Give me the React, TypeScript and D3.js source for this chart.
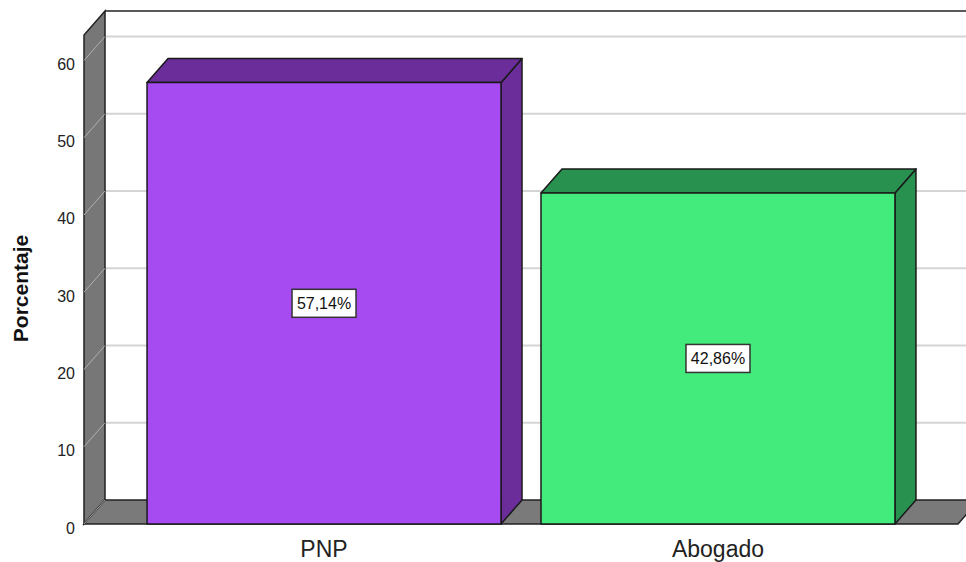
import * as d3 from 'd3';
import React from 'react';

const categories = ['PNP', 'Abogado'];
const values = [57.14, 42.86];
const valueLabels = ['57,14%', '42,86%'];
const yTicks = [0, 10, 20, 30, 40, 50, 60];
const frontColors = ['#a64af2', '#43ea7c'];
const sideColors = ['#6a2d99', '#289150'];

const width = 966;
const height = 562;
const depthX = 21;
const depthY = 24;
const baseY = 524;
const left = 84;
const right = 958;

const App = () => {
  const x = d3
    .scaleBand<string>()
    .domain(categories)
    .range([left, right])
    .paddingInner(0.1015)
    .paddingOuter(0.16);
  const y = d3.scaleLinear().domain([0, 63.3]).range([baseY, 35]);
  const top = y(63.3);
  const bw = x.bandwidth();

  return (
    <svg
      width={width}
      height={height}
      style={{ position: 'absolute', left: 0, top: 0, fontFamily: 'Liberation Sans, Arial, sans-serif' }}
    >
      <rect width={width} height={height} fill="#fff" />
      {/* back wall */}
      <rect x={left + depthX} y={top - depthY} width={width} height={baseY - top} fill="#fff" />
      {yTicks.slice(1).map((t) => (
        <line
          key={'g' + t}
          x1={left + depthX}
          x2={width}
          y1={y(t) - depthY}
          y2={y(t) - depthY}
          stroke="#d4d4d4"
          strokeWidth={2}
        />
      ))}
      <line x1={left + depthX} x2={width} y1={top - depthY} y2={top - depthY} stroke="#222" strokeWidth={1.5} />
      {/* left wall */}
      <polygon
        points={`${left},${baseY} ${left},${top} ${left + depthX},${top - depthY} ${left + depthX},${baseY - depthY}`}
        fill="#777"
        stroke="#222"
        strokeWidth={1.5}
      />
      {yTicks.slice(1).map((t) => (
        <line
          key={'d' + t}
          x1={left}
          x2={left + depthX}
          y1={y(t)}
          y2={y(t) - depthY}
          stroke="#b0b0b0"
          strokeWidth={1}
        />
      ))}
      {/* floor */}
      <polygon
        points={`${left},${baseY} ${right},${baseY} ${right + depthX},${baseY - depthY} ${left + depthX},${baseY - depthY}`}
        fill="#7a7a7a"
        stroke="#222"
        strokeWidth={1.5}
      />
      <line x1={left} x2={left + depthX} y1={baseY} y2={baseY - depthY} stroke="#aaa" strokeWidth={1} />
      {/* bars */}
      {categories.map((c, i) => {
        const x0 = x(c) as number;
        const x1 = x0 + bw;
        const yt = y(values[i]);
        return (
          <g key={c} stroke="#1a1a1a" strokeWidth={1.5} strokeLinejoin="round">
            <polygon
              points={`${x1},${baseY} ${x1},${yt} ${x1 + depthX},${yt - depthY} ${x1 + depthX},${baseY - depthY}`}
              fill={sideColors[i]}
            />
            <polygon
              points={`${x0},${yt} ${x1},${yt} ${x1 + depthX},${yt - depthY} ${x0 + depthX},${yt - depthY}`}
              fill={sideColors[i]}
            />
            <rect x={x0} y={yt} width={bw} height={baseY - yt} fill={frontColors[i]} />
          </g>
        );
      })}
      {/* value labels */}
      {categories.map((c, i) => {
        const cx = (x(c) as number) + bw / 2;
        const cy = (y(values[i]) + baseY) / 2;
        const w = 64;
        const h = 28;
        return (
          <g key={'l' + c}>
            <rect x={cx - w / 2} y={cy - h / 2} width={w} height={h} fill="#fff" stroke="#333" strokeWidth={1.5} />
            <text x={cx} y={cy + 6} textAnchor="middle" fontSize={16} fill="#111">
              {valueLabels[i]}
            </text>
          </g>
        );
      })}
      {/* y tick labels */}
      {yTicks.map((t) => (
        <text key={'t' + t} x={75} y={y(t) + 9.5} textAnchor="end" fontSize={16} fill="#222">
          {t}
        </text>
      ))}
      {/* x labels */}
      {categories.map((c) => (
        <text key={'x' + c} x={(x(c) as number) + bw / 2} y={557} textAnchor="middle" fontSize={23} fill="#222">
          {c}
        </text>
      ))}
      <text
        transform={`translate(28, ${(baseY + top) / 2 + 9}) rotate(-90)`}
        textAnchor="middle"
        fontSize={21}
        fontWeight="bold"
        fill="#111"
      >
        Porcentaje
      </text>
    </svg>
  );
};

export default App;
